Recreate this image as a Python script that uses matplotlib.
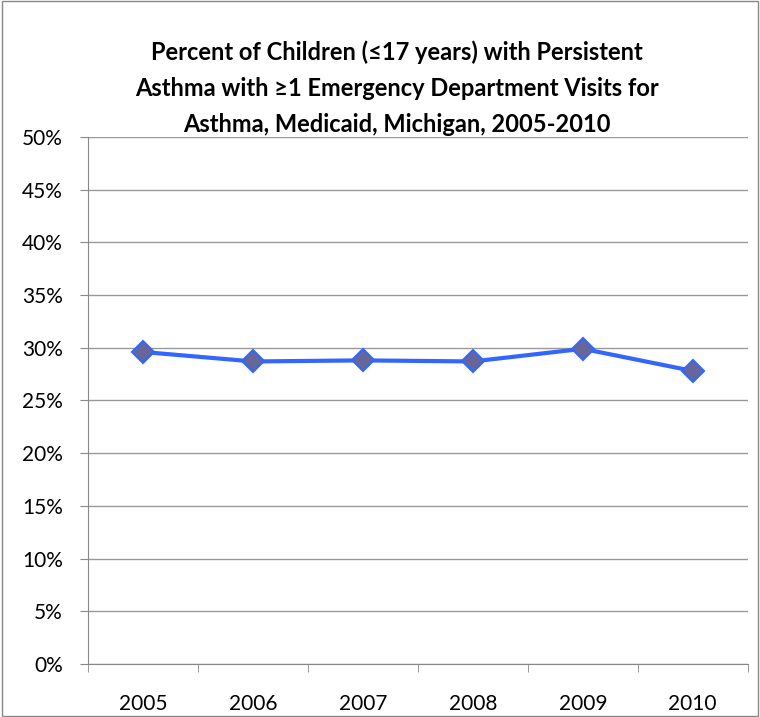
import numpy as np
import matplotlib.pyplot as plt

years = ['2005', '2006', '2007', '2008', '2009', '2010']
percent = [29.6, 28.7, 28.8, 28.7, 29.9, 27.8]
err = [0.3, 0.3, 0.4, 0.4, 0.4, 0.3]

plt.rcParams['font.family'] = ['Lato', 'DejaVu Sans']

fig = plt.figure(figsize=(7.6, 7.17), dpi=100)
ax = fig.add_axes([0.1158, 0.074, 0.868, 0.735])

x = np.arange(len(years))
ax.errorbar(x, percent, yerr=err, fmt='none', ecolor='#333333', elinewidth=1, capsize=4, zorder=2)
ax.plot(x, percent, color='#3366FF', linewidth=3, marker='D', markersize=11,
        markerfacecolor='#666699', markeredgecolor='#3366FF', markeredgewidth=1.5, zorder=3)

ax.set_ylim(0, 50)
ax.set_yticks(np.arange(0, 51, 5))
ax.set_yticklabels([f'{v}%' for v in range(0, 51, 5)], fontsize=15)
ax.set_xlim(-0.5, 5.5)
ax.set_xticks(x)
ax.set_xticklabels(years, fontsize=15)
ax.set_xticks(np.arange(-0.5, 6, 1), minor=True)
ax.tick_params(axis='x', which='major', length=0, pad=22)
ax.tick_params(axis='x', which='minor', length=6, color='#888888')
ax.tick_params(axis='y', length=6, color='#888888', pad=12)

ax.grid(axis='y', color='#999999', linewidth=1)
ax.set_axisbelow(True)
for s in ['top', 'right']:
    ax.spines[s].set_visible(False)
for s in ['left', 'bottom']:
    ax.spines[s].set_color('#888888')

fig.text(0.522, 0.877, 'Percent of Children (\u226417 years) with Persistent\n'
         'Asthma with \u22651 Emergency Department Visits for\n'
         'Asthma, Medicaid, Michigan, 2005-2010',
         ha='center', va='center', fontsize=17, fontweight='bold', linespacing=1.7)

fig.patches.append(plt.Rectangle((0.002, 0.002), 0.996, 0.996, transform=fig.transFigure,
                                 fill=False, edgecolor='#888888', linewidth=1))

plt.savefig('out.png')
